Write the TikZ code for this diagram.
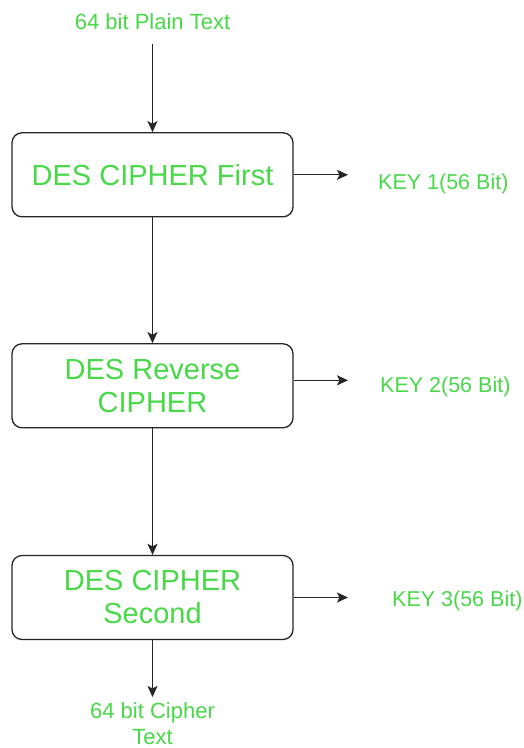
\documentclass[tikz,border=0pt]{standalone}
\usepackage{fontspec}
\setmainfont{Liberation Sans}
\usetikzlibrary{arrows.meta}
\definecolor{keygreen}{RGB}{72,216,72}
\begin{document}
\begin{tikzpicture}[x=1pt,y=-1pt,
  stagebox/.style={draw=black!85, line width=1.3pt, rounded corners=10pt,
    minimum width=281pt, minimum height=84pt, align=center, text=keygreen,
    inner sep=0pt, font=\fontsize{29}{33}\selectfont},
  lbl/.style={text=keygreen, inner sep=0pt, align=center, font=\fontsize{22}{26.7}\selectfont},
  keylbl/.style={text=keygreen, inner sep=0pt, font=\fontsize{21.5}{26}\selectfont},
  arr/.style={line width=1.3pt, draw=black!85, -{Stealth[length=11pt,width=10pt,inset=2.5pt]}}]
\useasboundingbox (0,0) rectangle (524,748);
\fill[white] (0,0) rectangle (524,748);

\node[lbl, anchor=base] (plain) at (152.5,29.3) {64 bit Plain Text};
\node[stagebox] (b1) at (152.5,174.8) {DES CIPHER First};
\node[stagebox] (b2) at (152.5,385.8) {DES Reverse\\CIPHER};
\node[stagebox] (b3) at (152.5,597.5) {DES CIPHER\\Second};
\node[keylbl, anchor=base west] (k1) at (378,189) {KEY 1(56 Bit)};
\node[keylbl, anchor=base west] (k2) at (380,392) {KEY 2(56 Bit)};
\node[keylbl, anchor=base west] (k3) at (392,606) {KEY 3(56 Bit)};
\node[lbl, anchor=north] (cipher) at (152.5,702) {64 bit Cipher\\Text};

\coordinate (p1) at (b1.east);
\coordinate (p2) at ([yshift=5.5pt]b2.east);
\coordinate (p3) at (b3.east);

\draw[arr, shorten <=14pt] (plain.south) -- (b1.north);
\draw[arr] (b1.south) -- (b2.north);
\draw[arr] (b2.south) -- (b3.north);
\draw[arr, shorten >=5pt] (b3.south) -- (cipher.north);
\draw[arr, shorten >=30pt] (p1) -- (p1 -| k1.west);
\draw[arr, shorten >=32pt] (p2) -- (p2 -| k2.west);
\draw[arr, shorten >=44pt] (p3) -- (p3 -| k3.west);
\end{tikzpicture}
\end{document}
